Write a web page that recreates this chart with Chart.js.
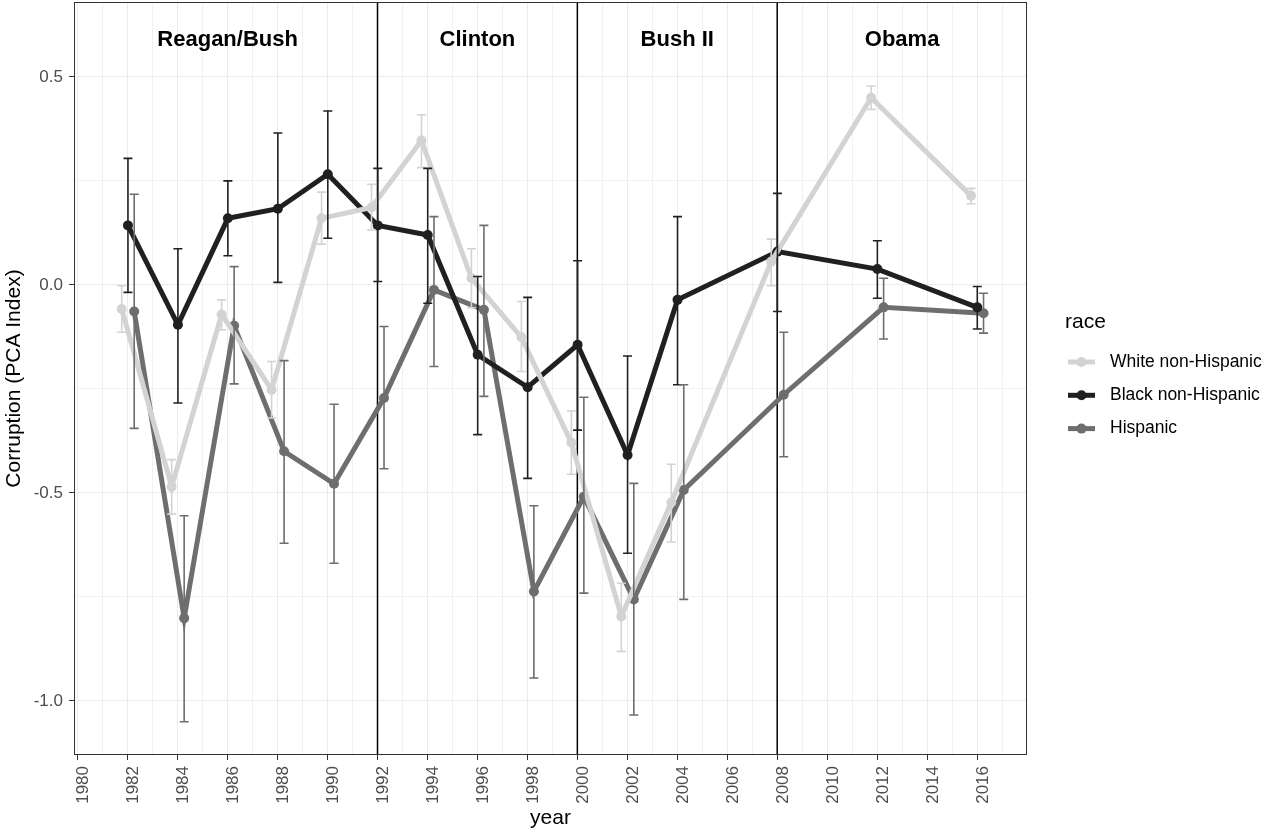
<!DOCTYPE html>
<html>
<head>
<meta charset="utf-8">
<script src="https://cdn.jsdelivr.net/npm/chart.js@4.4.0/dist/chart.umd.min.js"></script>
<style>
    html, body { margin: 0; padding: 0; background: #fff; overflow: hidden; }
    /* chart.js keeps a few px above the plot; pull the canvas up to match */
    #grafico { display: block; margin-top: -3px; }
</style>
</head>
<body>
<canvas id="grafico" width="1265" height="834"></canvas>
<script>
const years = [1982, 1984, 1986, 1988, 1990, 1992, 1994, 1996, 1998, 2000, 2002, 2004, 2008, 2012, 2016];

const whiteMean = [-0.058, -0.485, -0.071, -0.252, 0.160, 0.186, 0.347, 0.016, -0.126, -0.379, -0.797, -0.523, 0.056, 0.450, 0.214];
const whiteLow  = [-0.114, -0.551, -0.108, -0.320, 0.098, 0.132, 0.282, -0.055, -0.208, -0.455, -0.881, -0.618, -0.002, 0.422, 0.195];
const whiteHigh = [-0.002, -0.420, -0.036, -0.184, 0.223, 0.242, 0.409, 0.087, -0.040, -0.303, -0.717, -0.431, 0.110, 0.478, 0.232];

const blackMean = [0.143, -0.096, 0.160, 0.183, 0.266, 0.143, 0.120, -0.168, -0.246, -0.144, -0.409, -0.036, 0.080, 0.038, -0.054];
const blackLow  = [-0.018, -0.284, 0.070, 0.006, 0.112, 0.008, -0.044, -0.360, -0.465, -0.349, -0.645, -0.240, -0.064, -0.032, -0.106];
const blackHigh = [0.304, 0.087, 0.250, 0.365, 0.418, 0.280, 0.280, 0.020, -0.030, 0.058, -0.171, 0.164, 0.220, 0.106, -0.004];

const hispMean = [-0.064, -0.801, -0.098, -0.400, -0.478, -0.272, -0.012, -0.060, -0.737, -0.509, -0.756, -0.493, -0.264, -0.054, -0.068];
const hispLow  = [-0.345, -1.050, -0.238, -0.621, -0.669, -0.442, -0.196, -0.268, -0.945, -0.741, -1.034, -0.756, -0.413, -0.130, -0.116];
const hispHigh = [0.218, -0.555, 0.044, -0.182, -0.287, -0.100, 0.164, 0.143, -0.531, -0.270, -0.477, -0.240, -0.114, 0.016, -0.020];

const raceLabels = ["White non-Hispanic", "Black non-Hispanic", "Hispanic"];

const xTickLabels = ["1980", "1982", "1984", "1986", "1988", "1990", "1992", "1994", "1996", "1998",
                     "2000", "2002", "2004", "2006", "2008", "2010", "2012", "2014", "2016"];
const yTickLabels = ["-1.0", "-0.5", "0.0", "0.5"];

const eraLabels  = ["Reagan/Bush", "Clinton", "Bush II", "Obama"];
const eraCenters = [1986, 1996, 2004, 2013];
const eraBreaks  = [1992, 2000, 2008];

const FONT = "'Liberation Sans', Arial, Helvetica, sans-serif";
Chart.defaults.font.family = FONT;

const X_MIN = 1979.85, X_MAX = 2018;
const Y_MIN = -1.13, Y_MAX = 0.68;
const SHIFT = 3; // same as the css margin-top

const xMajor = xTickLabels.map(Number);
const yMajor = yTickLabels.map(Number);
// minor grid halfway between the major breaks
const xTicks = [];
xMajor.forEach(v => { xTicks.push(v, v + 1); });
const yTicks = [];
yMajor.forEach(v => { if (v + 0.25 < Y_MAX) yTicks.push(v, v + 0.25); else yTicks.push(v); });

// position_dodge shift for each group
function serie(label, color, shift, mean, low, high) {
    return {
        label: label,
        data: years.map((yr, i) => ({ x: yr + shift, y: mean[i] })),
        low: low,
        high: high,
        borderColor: color,
        backgroundColor: color,
        borderWidth: 5,
        pointRadius: 5,
        pointBorderWidth: 0,
        pointHoverRadius: 5,
        tension: 0
    };
}

const extras = {
    id: "extras",
    beforeDatasetsDraw(chart) {
        // vertical lines between presidencies
        const { ctx, chartArea: a, scales: { x } } = chart;
        ctx.save();
        ctx.strokeStyle = "#000";
        ctx.lineWidth = 1.5;
        eraBreaks.forEach(yr => {
            const px = x.getPixelForValue(yr);
            ctx.beginPath();
            ctx.moveTo(px, a.top); ctx.lineTo(px, a.bottom);
            ctx.stroke();
        });
        ctx.restore();
    },
    afterDatasetsDraw(chart) {
        const { ctx, scales: { x, y } } = chart;
        chart.data.datasets.forEach(ds => {
            ctx.save();
            ctx.strokeStyle = ds.borderColor;
            ctx.lineWidth = 1.6;
            ds.data.forEach((p, i) => {
                const px = x.getPixelForValue(p.x);
                const top = y.getPixelForValue(ds.high[i]);
                const bot = y.getPixelForValue(ds.low[i]);
                ctx.beginPath();
                ctx.moveTo(px, top); ctx.lineTo(px, bot);
                ctx.moveTo(px - 4.5, top); ctx.lineTo(px + 4.5, top);
                ctx.moveTo(px - 4.5, bot); ctx.lineTo(px + 4.5, bot);
                ctx.stroke();
            });
            ctx.restore();
        });
    },
    afterDraw(chart) {
        const { ctx, chartArea: a, scales: { x, y } } = chart;
        ctx.save();

        // panel border
        ctx.strokeStyle = "#333333";
        ctx.lineWidth = 1;
        ctx.strokeRect(a.left + 0.5, a.top + 0.5, a.right - a.left - 1, a.bottom - a.top - 1);

        // era labels
        ctx.fillStyle = "#000";
        ctx.font = "bold 22px " + FONT;
        ctx.textAlign = "center";
        ctx.textBaseline = "middle";
        eraLabels.forEach((t, i) => {
            ctx.fillText(t, x.getPixelForValue(eraCenters[i]), y.getPixelForValue(0.589));
        });

        // legend
        ctx.textAlign = "left";
        ctx.font = "21px " + FONT;
        ctx.fillText("race", 1065, 322 + SHIFT);
        ctx.font = "17.5px " + FONT;
        chart.data.datasets.forEach((ds, i) => {
            const ly = 362 + SHIFT + i * 33.3;
            ctx.strokeStyle = ds.borderColor;
            ctx.lineWidth = 5;
            ctx.beginPath();
            ctx.moveTo(1068, ly); ctx.lineTo(1095, ly);
            ctx.stroke();
            ctx.fillStyle = ds.borderColor;
            ctx.beginPath();
            ctx.arc(1081.5, ly, 5, 0, Math.PI * 2);
            ctx.fill();
            ctx.fillStyle = "#000";
            ctx.fillText(ds.label, 1110, ly);
        });
        ctx.restore();
    }
};

new Chart(document.getElementById("grafico"), {
    type: "line",
    data: {
        datasets: [
            serie(raceLabels[0], "#D3D3D3", -0.24, whiteMean, whiteLow, whiteHigh),
            serie(raceLabels[1], "#202020", 0.01, blackMean, blackLow, blackHigh),
            serie(raceLabels[2], "#6E6E6E", 0.26, hispMean, hispLow, hispHigh)
        ]
    },
    options: {
        responsive: false,
        animation: false,
        layout: { padding: { top: 2, right: 238, left: 0, bottom: 0 } },
        plugins: {
            legend: { display: false },
            tooltip: { enabled: false }
        },
        scales: {
            x: {
                type: "linear",
                min: X_MIN,
                max: X_MAX,
                afterBuildTicks: s => { s.ticks = xTicks.map(v => ({ value: v })); },
                afterFit: s => {
                    s.height = 76;
                    s.paddingLeft = 0; s.paddingRight = 0;
                },
                border: { display: false },
                grid: {
                    color: c => (c.tick && xMajor.includes(c.tick.value)) ? "#EBEBEB" : "#F1F1F1",
                    lineWidth: 1,
                    tickColor: c => (c.tick && xMajor.includes(c.tick.value)) ? "#333333" : "rgba(0,0,0,0)",
                    tickWidth: 1,
                    tickLength: 5
                },
                ticks: {
                    autoSkip: false,
                    minRotation: 90,
                    maxRotation: 90,
                    padding: 6,
                    labelOffset: 6,
                    color: "#4D4D4D",
                    font: { size: 17 },
                    callback: v => xMajor.includes(v) ? String(v) : ""
                },
                title: {
                    display: true,
                    text: "year",
                    color: "#000",
                    font: { size: 21 },
                    padding: 0
                }
            },
            y: {
                min: Y_MIN,
                max: Y_MAX,
                afterBuildTicks: s => { s.ticks = yTicks.map(v => ({ value: v })); },
                afterFit: s => {
                    s.width = 74;
                    s.paddingTop = 0; s.paddingBottom = 0;
                },
                border: { display: false },
                grid: {
                    color: c => (c.tick && yMajor.includes(c.tick.value)) ? "#EBEBEB" : "#F1F1F1",
                    lineWidth: 1,
                    tickColor: c => (c.tick && yMajor.includes(c.tick.value)) ? "#333333" : "rgba(0,0,0,0)",
                    tickWidth: 1,
                    tickLength: 5
                },
                ticks: {
                    autoSkip: false,
                    padding: 6,
                    color: "#4D4D4D",
                    font: { size: 17 },
                    callback: v => {
                        const k = yMajor.indexOf(v);
                        return k >= 0 ? yTickLabels[k] : "";
                    }
                },
                title: {
                    display: true,
                    text: "Corruption (PCA Index)",
                    color: "#000",
                    font: { size: 21 },
                    padding: { top: 2, bottom: 0 }
                }
            }
        }
    },
    plugins: [extras]
});
</script>
</body>
</html>
